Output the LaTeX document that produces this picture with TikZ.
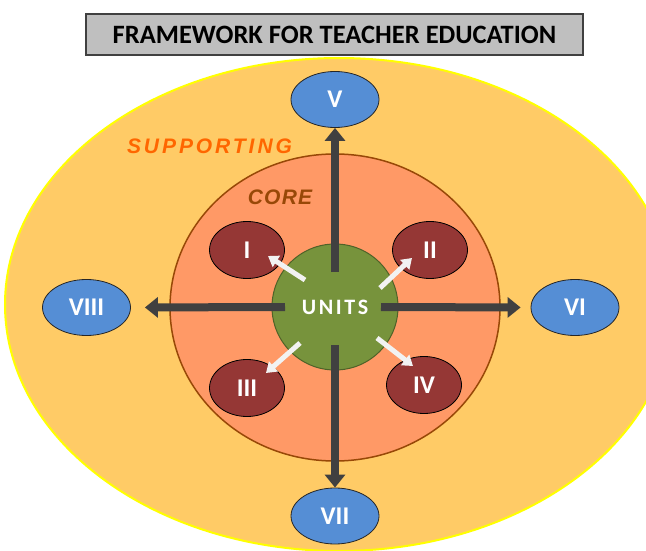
\documentclass[tikz,border=0pt]{standalone}
\usepackage{fontspec}
\setmainfont{Carlito}
\newfontfamily\supfont[LetterSpace=14]{Liberation Sans}
\newfontfamily\corefont[LetterSpace=6]{Liberation Sans}
\newfontfamily\unitsfont[LetterSpace=12]{Carlito}
\usetikzlibrary{shapes.geometric,arrows.meta}
\definecolor{outerfill}{HTML}{FFCB66}
\definecolor{outerline}{HTML}{FFFF00}
\definecolor{corefill}{HTML}{FF9966}
\definecolor{coreline}{HTML}{984807}
\definecolor{greenfill}{HTML}{77933C}
\definecolor{greenline}{HTML}{4F6228}
\definecolor{redfill}{HTML}{953735}
\definecolor{bluefill}{HTML}{558ED5}
\definecolor{arrowgray}{HTML}{404040}
\definecolor{titlegray}{HTML}{BFBFBF}
\definecolor{suporange}{HTML}{FF6600}
\definecolor{whitearr}{HTML}{F2F2F2}
\tikzset{
  titlebox/.style={draw=arrowgray, line width=1.5pt, fill=titlegray, inner sep=0pt,
    minimum width=497pt, minimum height=41pt, font=\bfseries\fontsize{26.5}{30}\selectfont},
  redell/.style={ellipse, draw=black, line width=0.8pt, fill=redfill, inner sep=0pt,
    minimum width=75pt, minimum height=57pt, text=white, font=\bfseries\fontsize{25.5}{30}\selectfont},
  blueell/.style={ellipse, draw=black!85, line width=0.8pt, fill=bluefill, inner sep=0pt,
    minimum width=88pt, minimum height=56pt, text=white, font=\bfseries\fontsize{25.5}{30}\selectfont},
  darkarrow/.style={draw=arrowgray, line width=8pt, -{Triangle[width=20pt,length=13pt]}},
  whitearrow/.style={draw=whitearr, line width=5pt, -{Triangle[width=13pt,length=10pt]}}
}
\begin{document}
\begin{tikzpicture}[x=1pt,y=-1pt]
\useasboundingbox (0,0) rectangle (646,551);
% title
\node[titlebox] (title) at (334.5,34.5) {FRAMEWORK FOR TEACHER EDUCATION};
% outer ellipse
\node[ellipse, draw=outerline, line width=2pt, fill=outerfill, inner sep=0pt,
  minimum width=668pt, minimum height=493pt] (supp) at (339,304.5) {};
\node[text=suporange, font=\supfont\bfseries\itshape\fontsize{21}{25}\selectfont] (suplbl) at (209.5,146) {SUPPORTING};
% core
\node[ellipse, draw=coreline, line width=1.5pt, fill=corefill, inner sep=0pt,
  minimum width=330pt, minimum height=307pt] (core) at (335,307.5) {};
\node[text=coreline, font=\corefont\bfseries\itshape\fontsize{21}{25}\selectfont] (corelbl) at (280,197.5) {CORE};
% green circle
\node[circle, draw=greenline, line width=1pt, fill=greenfill, inner sep=0pt,
  minimum size=126pt] (units) at (335,307) {};
% red ellipses
\node[redell] (e1) at (247,250) {I};
\node[redell] (e2) at (430,250) {II};
\node[redell] (e3) at (247,388) {III};
\node[redell] (e4) at (424,385) {IV};
% blue ellipses
\node[blueell] (e5) at (335,99.5) {V};
\node[blueell] (e6) at (575,307.5) {VI};
\node[blueell] (e7) at (335,516) {VII};
\node[blueell] (e8) at (86.5,307.5) {VIII};
% dark arrows
\coordinate (st) at (335,272);
\coordinate (sb) at (335,345);
\coordinate (sl) at (285,307);
\coordinate (sr) at (381,307);
\draw[darkarrow] (st) -- (e5.south);
\draw[darkarrow] (sb) -- (e7.north);
\draw[darkarrow, shorten >=14pt] (sl) -- (e8.east);
\draw[darkarrow, shorten >=10pt] (sr) -- (e6.west);
% white arrows
\coordinate (t1) at (305,280); \coordinate (h1) at (268,256);
\coordinate (t2) at (380,288); \coordinate (h2) at (412,258);
\coordinate (t3) at (300,343); \coordinate (h3) at (266,373);
\coordinate (t4) at (377,338); \coordinate (h4) at (413,366);
\draw[whitearrow] (t1) -- (h1);
\draw[whitearrow] (t2) -- (h2);
\draw[whitearrow] (t3) -- (h3);
\draw[whitearrow] (t4) -- (h4);
% units label
\node[text=white, font=\unitsfont\bfseries\fontsize{22}{26}\selectfont] (unitslbl) at (units.center) {UNITS};
\end{tikzpicture}
\end{document}
